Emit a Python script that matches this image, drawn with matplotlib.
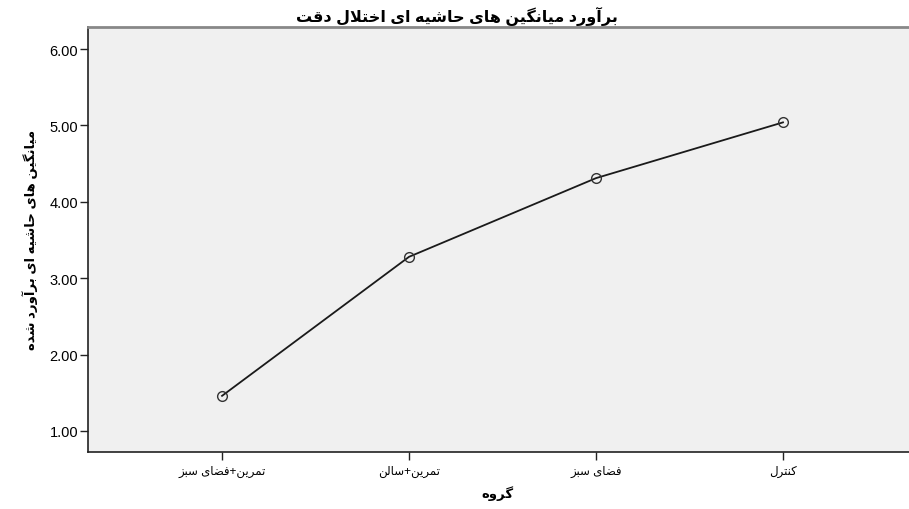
import matplotlib
matplotlib.use('Agg')
import matplotlib.pyplot as plt

# data
groups = ['تمرین+فضای سبز', 'تمرین+سالن', 'فضای سبز', 'کنترل']
means = [1.46, 3.28, 4.31, 5.04]
yticks = [1.0, 2.0, 3.0, 4.0, 5.0, 6.0]

title = 'برآورد میانگین های حاشیه ای اختلال دقت'
ylabel = 'میانگین های حاشیه ای برآورد شده'
xlabel = 'گروه'

# presentation forms: (isolated, final, initial, medial)
forms = {
    'ا': ('\uFE8D', '\uFE8E', None, None),
    'آ': ('\uFE81', '\uFE82', None, None),
    'ب': ('\uFE8F', '\uFE90', '\uFE91', '\uFE92'),
    'ت': ('\uFE95', '\uFE96', '\uFE97', '\uFE98'),
    'ح': ('\uFEA1', '\uFEA2', '\uFEA3', '\uFEA4'),
    'خ': ('\uFEA5', '\uFEA6', '\uFEA7', '\uFEA8'),
    'د': ('\uFEA9', '\uFEAA', None, None),
    'ر': ('\uFEAD', '\uFEAE', None, None),
    'ز': ('\uFEAF', '\uFEB0', None, None),
    'س': ('\uFEB1', '\uFEB2', '\uFEB3', '\uFEB4'),
    'ش': ('\uFEB5', '\uFEB6', '\uFEB7', '\uFEB8'),
    'ض': ('\uFEBD', '\uFEBE', '\uFEBF', '\uFEC0'),
    'ف': ('\uFED1', '\uFED2', '\uFED3', '\uFED4'),
    'ق': ('\uFED5', '\uFED6', '\uFED7', '\uFED8'),
    'ل': ('\uFEDD', '\uFEDE', '\uFEDF', '\uFEE0'),
    'م': ('\uFEE1', '\uFEE2', '\uFEE3', '\uFEE4'),
    'ن': ('\uFEE5', '\uFEE6', '\uFEE7', '\uFEE8'),
    'ه': ('\uFEE9', '\uFEEA', '\uFEEB', '\uFEEC'),
    'و': ('\uFEED', '\uFEEE', None, None),
    'ی': ('\uFBFC', '\uFBFD', '\uFBFE', '\uFBFF'),
    'ک': ('\uFB8E', '\uFB8F', '\uFB90', '\uFB91'),
    'گ': ('\uFB92', '\uFB93', '\uFB94', '\uFB95'),
}
lam_alef = {'ا': ('\uFEFB', '\uFEFC'), 'آ': ('\uFEF5', '\uFEF6')}


def joins_left(c):
    return c in forms and forms[c][2] is not None


def shape(text):
    out = []
    i = 0
    n = len(text)
    while i < n:
        c = text[i]
        if c not in forms:
            out.append(c)
            i += 1
            continue
        prev = text[i - 1] if i > 0 else ''
        after = joins_left(prev)
        if c == 'ل' and i + 1 < n and text[i + 1] in lam_alef:
            out.append(lam_alef[text[i + 1]][1 if after else 0])
            i += 2
            continue
        nxt = text[i + 1] if i + 1 < n else ''
        before = joins_left(c) and nxt in forms
        iso, fin, ini, med = forms[c]
        if after and before:
            out.append(med)
        elif after:
            out.append(fin)
        elif before:
            out.append(ini)
        else:
            out.append(iso)
        i += 1
    return ''.join(out)[::-1]


plt.rcParams['font.family'] = ['Liberation Sans', 'DejaVu Sans']

fig = plt.figure(figsize=(9.09, 5.10), dpi=100)
ax = fig.add_axes([0.0968, 0.1118, 0.9032, 0.8332])
ax.set_facecolor('#f0f0f0')

x = list(range(len(groups)))
ax.plot(x, means, color='#1a1a1a', lw=1.3, marker='o', ms=7,
        mfc='none', mec='#333333', mew=1.0)

ax.set_xlim(-0.717, 3.674)
ax.set_ylim(0.725, 6.288)
ax.set_yticks(yticks)
ax.set_yticklabels(['%.2f' % v for v in yticks], fontsize=10.5)
ax.set_xticks(x)
ax.set_xticklabels([shape(g) for g in groups], fontsize=8.5)

ax.tick_params(axis='both', direction='out', length=6, width=1, color='#222222')
ax.tick_params(axis='x', pad=3)
ax.tick_params(axis='y', pad=1)

ax.spines['right'].set_visible(False)
ax.spines['top'].set_color('#888888')
ax.spines['top'].set_linewidth(2)
ax.spines['left'].set_color('#222222')
ax.spines['bottom'].set_color('#222222')
ax.spines['left'].set_linewidth(1.2)
ax.spines['bottom'].set_linewidth(1.2)

fig.text(0.503, 0.968, shape(title), ha='center', va='center',
         fontsize=11.5, fontweight='bold')
fig.text(0.033, 0.53, shape(ylabel), ha='center', va='center',
         rotation=90, fontsize=9.5, fontweight='bold')
fig.text(0.547, 0.033, shape(xlabel), ha='center', va='center',
         fontsize=9.5, fontweight='bold')

fig.savefig('out.png', dpi=100)
